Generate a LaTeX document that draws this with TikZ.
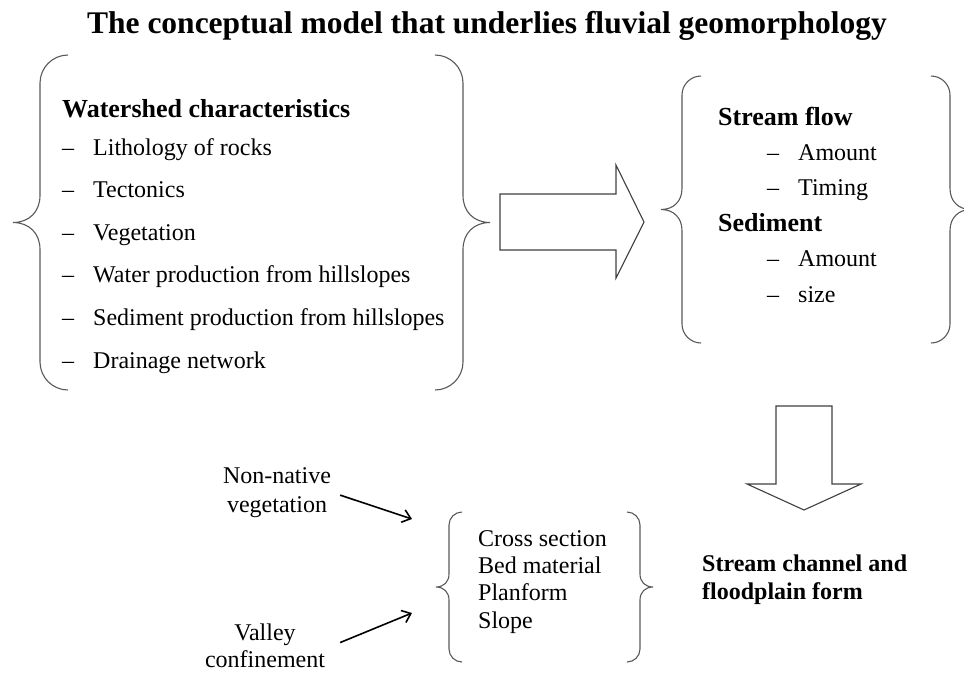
\documentclass[tikz,border=0pt]{standalone}
\usepackage{fontspec}
\setmainfont{Liberation Serif}
\usetikzlibrary{arrows.meta,calc}

\newcommand{\itemdash}{\makebox[31pt][l]{\textendash}}
% pair of curly brackets: left x, right x, top y, bottom y, tip depth, end radius
\newcommand{\bracepair}[6]{%
  \pgfmathsetmacro{\bmid}{(#3+#4)/2}%
  \draw[curlyline] (#1+#6,#3) .. controls (#1+0.45*#6,#3) and (#1,#3+0.45*#6) .. (#1,#3+#6)
    -- (#1,\bmid-#5) .. controls (#1,\bmid-0.4*#5) and (#1-0.4*#5,\bmid) .. (#1-#5,\bmid)
    .. controls (#1-0.4*#5,\bmid) and (#1,\bmid+0.4*#5) .. (#1,\bmid+#5)
    -- (#1,#4-#6) .. controls (#1,#4-0.45*#6) and (#1+0.45*#6,#4) .. (#1+#6,#4);
  \draw[curlyline] (#2-#6,#3) .. controls (#2-0.45*#6,#3) and (#2,#3+0.45*#6) .. (#2,#3+#6)
    -- (#2,\bmid-#5) .. controls (#2,\bmid-0.4*#5) and (#2+0.4*#5,\bmid) .. (#2+#5,\bmid)
    .. controls (#2+0.4*#5,\bmid) and (#2,\bmid+0.4*#5) .. (#2,\bmid+#5)
    -- (#2,#4-#6) .. controls (#2,#4-0.45*#6) and (#2-0.45*#6,#4) .. (#2-#6,#4);
}

\tikzset{
  curlyline/.style={draw=black!65, line width=1.1pt},
  blockarrow/.style={draw=black!75, line width=1.1pt, fill=white},
  txt/.style={inner sep=0pt, anchor=base west, align=left, font=\fontsize{24}{27.3}\selectfont}
}

\begin{document}
\begin{tikzpicture}[x=1pt, y=-1pt, >={Straight Barb[length=8pt,width=13pt]}]
  \useasboundingbox (0,0) rectangle (964,673);
  % Title
  \node[inner sep=0pt, anchor=base, font=\fontsize{31.5}{36}\selectfont\bfseries] (title) at (487,33)
    {The conceptual model that underlies fluvial geomorphology};
  % Nodes (anchored at the baseline of their last line)
  \node[txt, font=\fontsize{24}{42.6}\selectfont] (watershed) at (62,368)
    {{\fontsize{26}{42.6}\selectfont\bfseries Watershed characteristics}\\[-4.6pt]
     \itemdash Lithology of rocks\\
     \itemdash Tectonics\\
     \itemdash Vegetation\\
     \itemdash Water production from hillslopes\\
     \itemdash Sediment production from hillslopes\\
     \itemdash Drainage network};
  \node[txt, font=\fontsize{24}{35.4}\selectfont] (flow) at (718,302)
    {{\fontsize{26}{35.4}\selectfont\bfseries Stream flow}\\
     \hspace*{49pt}\itemdash Amount\\
     \hspace*{49pt}\itemdash Timing\\
     {\fontsize{26}{35.4}\selectfont\bfseries Sediment}\\
     \hspace*{49pt}\itemdash Amount\\
     \hspace*{49pt}\itemdash size};
  \node[txt] (form) at (478,628) {Cross section\\Bed material\\Planform\\Slope};
  \node[txt, font=\fontsize{24}{27.5}\selectfont\bfseries] (channel) at (702,599)
    {Stream channel and\\floodplain form};
  \node[inner sep=0pt, anchor=base, align=center, font=\fontsize{24}{29}\selectfont] (nonnative) at (277,512)
    {Non-native\\vegetation};
  \node[inner sep=0pt, anchor=base, align=center, font=\fontsize{24}{26.5}\selectfont] (valley) at (265,667)
    {Valley\\confinement};
  % Brackets
  \bracepair{40}{463}{55}{390}{27}{28}
  \bracepair{682}{950}{76}{343}{21}{19}
  \bracepair{449}{640}{512}{662}{13}{13}
  % Block arrows
  \draw[blockarrow] (500,194) -- (616,194) -- (616,165) -- (644,222) -- (616,278) -- (616,250) -- (500,250) -- cycle;
  \draw[blockarrow] (776,406) -- (832,406) -- (832,484) -- (861,484) -- (804,510) -- (747,484) -- (776,484) -- cycle;
  % Edges
  \coordinate (in1) at (412,519);
  \coordinate (in2) at (412,613);
  \draw[->, line width=1.6pt] ($(nonnative.east)+(9,3)$) -- (in1);
  \draw[->, line width=1.6pt] ($(valley.east)+(15,-3)$) -- (in2);
\end{tikzpicture}
\end{document}
